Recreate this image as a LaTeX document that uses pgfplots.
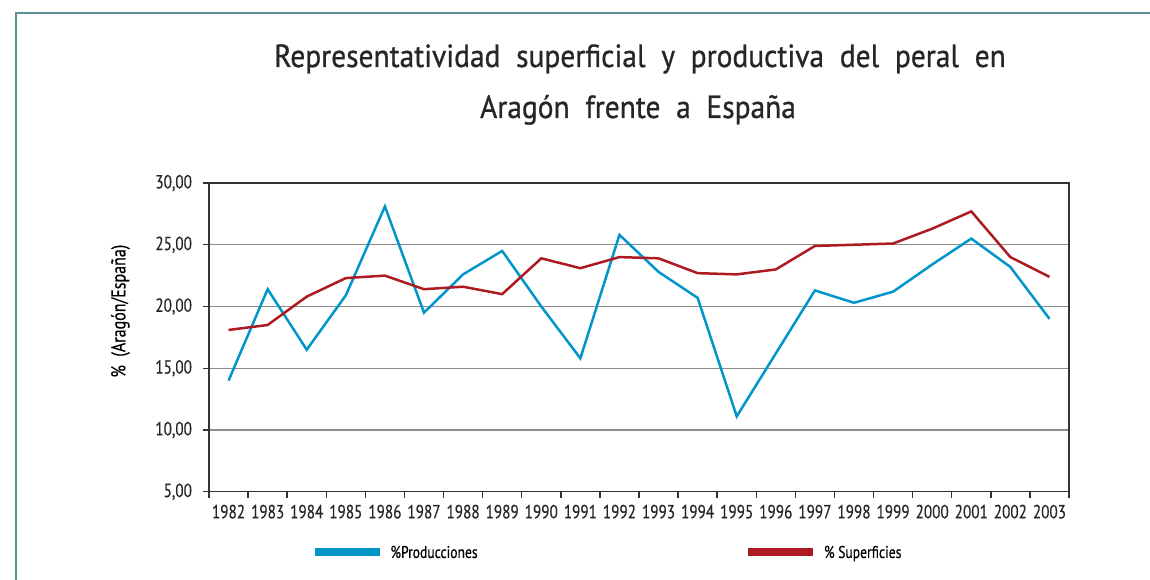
\documentclass[border=0pt]{standalone}
\usepackage{pgfplots}
\pgfplotsset{compat=1.18}
\usepackage{fontspec}
\setmainfont{PT Sans}[FakeStretch=0.8, FakeBold=0.4]
\newfontfamily\titlefont{PT Sans}[FakeStretch=0.92, FakeBold=0.8]

\definecolor{prodblue}{RGB}{0,150,202}
\definecolor{supred}{RGB}{173,26,34}
\definecolor{gridgray}{RGB}{140,140,140}
\definecolor{framecol}{RGB}{91,142,150}

% 1 px of the reference = 0.5pt
\begin{document}
\begin{tikzpicture}
\path[use as bounding box] (0,0) rectangle (575pt,289.5pt);
\draw[framecol, line width=1.2pt] (8pt,-2pt) -- (8pt,283pt) -- (580pt,283pt);

\node[anchor=base, font=\titlefont\fontsize{16}{19}\selectfont, text=black!85] at (320pt,256pt)
  {Representatividad \ superficial \ y \ productiva \ del \ peral \ en};
\node[anchor=base, font=\titlefont\fontsize{16}{19}\selectfont, text=black!85] at (319pt,230.5pt)
  {Aragón \ frente \ a \ España};

\begin{axis}[
    at={(104.5pt,43.65pt)}, anchor=south west,
    scale only axis,
    width=430pt, height=154.35pt,
    xmin=1981.5, xmax=2003.5,
    ymin=5, ymax=30,
    xtick={1981.5,1982.5,...,2003.5},
    x tick label as interval,
    xticklabels={1982,1983,1984,1985,1986,1987,1988,1989,1990,1991,1992,
                 1993,1994,1995,1996,1997,1998,1999,2000,2001,2002,2003},
    ytick={5,10,15,20,25,30},
    xtick pos=bottom, ytick pos=left,
    tick align=outside,
    major tick length=3pt,
    ymajorgrids,
    grid style={gridgray, line width=0.6pt},
    axis line style={black!80, line width=0.6pt},
    tick style={black!80, line width=0.7pt},
    /pgf/number format/.cd, fixed, fixed zerofill, precision=2, use comma,
      assume math mode=true,
    /pgfplots/.cd,
    ticklabel style={font=\fontsize{9.5}{11}\selectfont, text=black!85},
    yticklabel style={xshift=-2pt},
    ylabel={\%\ \ (Aragón/España)},
    ylabel style={font=\fontsize{8.5}{10}\selectfont, text=black!85},
    every axis y label/.style={at={(-0.103,0.585)}, rotate=90, anchor=center},
    legend columns=2,
    legend style={draw=none, fill=none, at={(0.118,-0.195)}, anchor=west,
      font=\fontsize{8.5}{10}\selectfont, inner sep=0pt,
      nodes={inner sep=0pt, text depth=0pt},
      /tikz/every odd column/.append style={column sep=3.5pt}},
    legend image code/.code={\draw[#1, line width=3.8pt] (0pt,0pt) -- (32.5pt,0pt);},
  ]
\addplot[prodblue, line width=1.25pt] coordinates {
  (1982,14.0) (1983,21.4) (1984,16.5) (1985,20.9) (1986,28.1) (1987,19.5)
  (1988,22.6) (1989,24.5) (1990,20.0) (1991,15.8) (1992,25.8) (1993,22.8)
  (1994,20.7) (1995,11.1) (1996,16.2) (1997,21.3) (1998,20.3) (1999,21.2)
  (2000,23.4) (2001,25.5) (2002,23.2) (2003,19.0)
};
\addlegendentry{\makebox[177pt][l]{\%Producciones}}
\addplot[supred, line width=1.25pt] coordinates {
  (1982,18.1) (1983,18.5) (1984,20.8) (1985,22.3) (1986,22.5) (1987,21.4)
  (1988,21.6) (1989,21.0) (1990,23.9) (1991,23.1) (1992,24.0) (1993,23.9)
  (1994,22.7) (1995,22.6) (1996,23.0) (1997,24.9) (1998,25.0) (1999,25.1)
  (2000,26.3) (2001,27.7) (2002,24.0) (2003,22.4)
};
\addlegendentry{\% Superficies}
\end{axis}
\end{tikzpicture}
\end{document}
